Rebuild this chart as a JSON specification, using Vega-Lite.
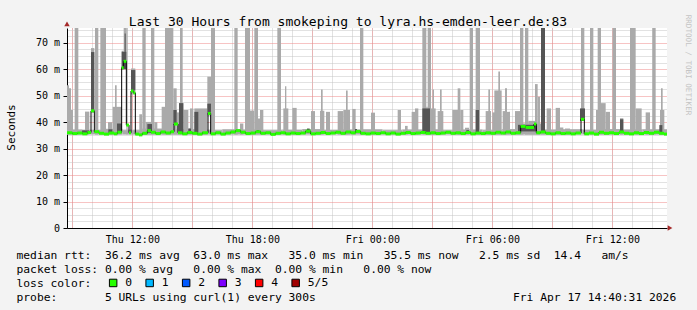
{
  "$schema": "https://vega.github.io/schema/vega-lite/v6.json",
  "width": 600,
  "height": 200,
  "autosize": {"type": "none"},
  "padding": {"left": 67, "top": 28, "right": 30, "bottom": 82},
  "background": "#f3f3f3",
  "config": {
    "view": {"fill": "#ffffff", "stroke": null},
    "font": "DejaVu Sans Mono",
    "axis": {"labelFont": "DejaVu Sans Mono", "titleFont": "DejaVu Sans Mono"}
  },
  "datasets": {
    "light": [
      {"t":"2026-04-16T08:44:00Z","t2":"2026-04-16T09:30:00Z","lo":35.3,"hi":37.2},
      {"t":"2026-04-16T09:30:00Z","t2":"2026-04-16T10:30:00Z","lo":35.3,"hi":37.0},
      {"t":"2026-04-16T10:30:00Z","t2":"2026-04-16T11:30:00Z","lo":35.3,"hi":37.5},
      {"t":"2026-04-16T11:30:00Z","t2":"2026-04-16T12:30:00Z","lo":35.3,"hi":37.0},
      {"t":"2026-04-16T12:30:00Z","t2":"2026-04-16T13:30:00Z","lo":35.3,"hi":37.6},
      {"t":"2026-04-16T13:30:00Z","t2":"2026-04-16T14:30:00Z","lo":35.3,"hi":37.3},
      {"t":"2026-04-16T14:30:00Z","t2":"2026-04-16T15:30:00Z","lo":35.3,"hi":37.4},
      {"t":"2026-04-16T15:30:00Z","t2":"2026-04-16T16:30:00Z","lo":35.3,"hi":37.0},
      {"t":"2026-04-16T16:30:00Z","t2":"2026-04-16T17:30:00Z","lo":35.3,"hi":37.3},
      {"t":"2026-04-16T17:30:00Z","t2":"2026-04-16T18:30:00Z","lo":35.3,"hi":37.2},
      {"t":"2026-04-16T18:30:00Z","t2":"2026-04-16T19:30:00Z","lo":35.3,"hi":37.0},
      {"t":"2026-04-16T19:30:00Z","t2":"2026-04-16T20:30:00Z","lo":35.3,"hi":37.1},
      {"t":"2026-04-16T20:30:00Z","t2":"2026-04-16T21:30:00Z","lo":35.3,"hi":37.4},
      {"t":"2026-04-16T21:30:00Z","t2":"2026-04-16T22:30:00Z","lo":35.3,"hi":37.0},
      {"t":"2026-04-16T22:30:00Z","t2":"2026-04-16T23:30:00Z","lo":35.3,"hi":37.2},
      {"t":"2026-04-16T23:30:00Z","t2":"2026-04-17T00:30:00Z","lo":35.3,"hi":37.3},
      {"t":"2026-04-17T00:30:00Z","t2":"2026-04-17T01:30:00Z","lo":35.3,"hi":37.0},
      {"t":"2026-04-17T01:30:00Z","t2":"2026-04-17T02:30:00Z","lo":35.3,"hi":37.2},
      {"t":"2026-04-17T02:30:00Z","t2":"2026-04-17T03:30:00Z","lo":35.3,"hi":37.3},
      {"t":"2026-04-17T03:30:00Z","t2":"2026-04-17T04:30:00Z","lo":35.3,"hi":37.0},
      {"t":"2026-04-17T04:30:00Z","t2":"2026-04-17T05:30:00Z","lo":35.3,"hi":37.2},
      {"t":"2026-04-17T05:30:00Z","t2":"2026-04-17T06:30:00Z","lo":35.3,"hi":37.0},
      {"t":"2026-04-17T06:30:00Z","t2":"2026-04-17T07:30:00Z","lo":35.3,"hi":37.4},
      {"t":"2026-04-17T07:30:00Z","t2":"2026-04-17T08:30:00Z","lo":35.3,"hi":39.5},
      {"t":"2026-04-17T08:30:00Z","t2":"2026-04-17T09:30:00Z","lo":35.3,"hi":37.2},
      {"t":"2026-04-17T09:30:00Z","t2":"2026-04-17T10:30:00Z","lo":35.3,"hi":37.3},
      {"t":"2026-04-17T10:30:00Z","t2":"2026-04-17T11:30:00Z","lo":35.3,"hi":37.1},
      {"t":"2026-04-17T11:30:00Z","t2":"2026-04-17T12:30:00Z","lo":35.3,"hi":37.4},
      {"t":"2026-04-17T12:30:00Z","t2":"2026-04-17T13:30:00Z","lo":35.3,"hi":37.2},
      {"t":"2026-04-17T13:30:00Z","t2":"2026-04-17T14:44:00Z","lo":35.3,"hi":37.3},
      {"t":"2026-04-16T08:44:00Z","t2":"2026-04-16T08:50:00Z","lo":35.3,"hi":54.0},
      {"t":"2026-04-16T08:50:00Z","t2":"2026-04-16T08:56:00Z","lo":35.3,"hi":52.8},
      {"t":"2026-04-16T08:56:00Z","t2":"2026-04-16T09:02:00Z","lo":35.3,"hi":44.6},
      {"t":"2026-04-16T09:07:00Z","t2":"2026-04-16T09:18:00Z","lo":35.3,"hi":90},
      {"t":"2026-04-16T09:38:00Z","t2":"2026-04-16T09:51:00Z","lo":35.3,"hi":44.0},
      {"t":"2026-04-16T09:56:00Z","t2":"2026-04-16T10:06:00Z","lo":43.5,"hi":68.0},
      {"t":"2026-04-16T10:08:00Z","t2":"2026-04-16T10:18:00Z","lo":35.3,"hi":90},
      {"t":"2026-04-16T10:24:00Z","t2":"2026-04-16T10:41:00Z","lo":35.3,"hi":90},
      {"t":"2026-04-16T10:47:00Z","t2":"2026-04-16T10:59:00Z","lo":35.3,"hi":40.0},
      {"t":"2026-04-16T11:01:00Z","t2":"2026-04-16T11:28:00Z","lo":35.3,"hi":45.8},
      {"t":"2026-04-16T11:08:00Z","t2":"2026-04-16T11:13:00Z","lo":35.3,"hi":54.0},
      {"t":"2026-04-16T11:28:00Z","t2":"2026-04-16T11:34:00Z","lo":59.8,"hi":67.0},
      {"t":"2026-04-16T11:34:00Z","t2":"2026-04-16T11:42:00Z","lo":61.5,"hi":90},
      {"t":"2026-04-16T11:42:00Z","t2":"2026-04-16T11:46:00Z","lo":35.3,"hi":90},
      {"t":"2026-04-16T11:56:00Z","t2":"2026-04-16T12:09:00Z","lo":50.5,"hi":60.3},
      {"t":"2026-04-16T12:21:00Z","t2":"2026-04-16T12:29:00Z","lo":35.3,"hi":43.0},
      {"t":"2026-04-16T12:30:00Z","t2":"2026-04-16T12:40:00Z","lo":35.3,"hi":90},
      {"t":"2026-04-16T12:40:00Z","t2":"2026-04-16T12:56:00Z","lo":35.3,"hi":40.1},
      {"t":"2026-04-16T12:56:00Z","t2":"2026-04-16T13:06:00Z","lo":35.3,"hi":90},
      {"t":"2026-04-16T13:06:00Z","t2":"2026-04-16T13:15:00Z","lo":35.3,"hi":40.0},
      {"t":"2026-04-16T13:28:00Z","t2":"2026-04-16T13:38:00Z","lo":35.3,"hi":45.8},
      {"t":"2026-04-16T13:38:00Z","t2":"2026-04-16T14:03:00Z","lo":35.3,"hi":90},
      {"t":"2026-04-16T14:03:00Z","t2":"2026-04-16T14:13:00Z","lo":35.3,"hi":52.8},
      {"t":"2026-04-16T14:13:00Z","t2":"2026-04-16T14:20:00Z","lo":35.3,"hi":43.7},
      {"t":"2026-04-16T14:20:00Z","t2":"2026-04-16T14:33:00Z","lo":35.3,"hi":47.2},
      {"t":"2026-04-16T14:23:00Z","t2":"2026-04-16T14:31:00Z","lo":35.3,"hi":90},
      {"t":"2026-04-16T14:33:00Z","t2":"2026-04-16T14:48:00Z","lo":35.3,"hi":44.6},
      {"t":"2026-04-16T14:48:00Z","t2":"2026-04-16T14:53:00Z","lo":35.3,"hi":37.6},
      {"t":"2026-04-16T14:53:00Z","t2":"2026-04-16T15:03:00Z","lo":35.3,"hi":45.2},
      {"t":"2026-04-16T15:06:00Z","t2":"2026-04-16T15:45:00Z","lo":35.3,"hi":45.2},
      {"t":"2026-04-16T15:45:00Z","t2":"2026-04-16T15:56:00Z","lo":42.5,"hi":57.2},
      {"t":"2026-04-16T15:56:00Z","t2":"2026-04-16T16:08:00Z","lo":35.3,"hi":90},
      {"t":"2026-04-16T17:06:00Z","t2":"2026-04-16T17:16:00Z","lo":35.3,"hi":90},
      {"t":"2026-04-16T17:23:00Z","t2":"2026-04-16T17:33:00Z","lo":35.3,"hi":39.5},
      {"t":"2026-04-16T17:38:00Z","t2":"2026-04-16T17:53:00Z","lo":35.3,"hi":90},
      {"t":"2026-04-16T17:53:00Z","t2":"2026-04-16T18:06:00Z","lo":35.3,"hi":44.4},
      {"t":"2026-04-16T18:06:00Z","t2":"2026-04-16T18:17:00Z","lo":35.3,"hi":90},
      {"t":"2026-04-16T18:17:00Z","t2":"2026-04-16T18:23:00Z","lo":35.3,"hi":41.4},
      {"t":"2026-04-16T18:23:00Z","t2":"2026-04-16T18:33:00Z","lo":35.3,"hi":44.6},
      {"t":"2026-04-16T19:15:00Z","t2":"2026-04-16T19:26:00Z","lo":35.3,"hi":90},
      {"t":"2026-04-16T19:33:00Z","t2":"2026-04-16T19:48:00Z","lo":35.3,"hi":45.2},
      {"t":"2026-04-16T19:38:00Z","t2":"2026-04-16T19:42:00Z","lo":35.3,"hi":53.6},
      {"t":"2026-04-16T20:00:00Z","t2":"2026-04-16T20:13:00Z","lo":35.3,"hi":45.4},
      {"t":"2026-04-16T20:56:00Z","t2":"2026-04-16T21:08:00Z","lo":35.3,"hi":44.2},
      {"t":"2026-04-16T21:23:00Z","t2":"2026-04-16T21:36:00Z","lo":35.3,"hi":44.3},
      {"t":"2026-04-16T21:26:00Z","t2":"2026-04-16T21:31:00Z","lo":35.3,"hi":52.4},
      {"t":"2026-04-16T21:41:00Z","t2":"2026-04-16T21:53:00Z","lo":35.3,"hi":43.9},
      {"t":"2026-04-16T22:16:00Z","t2":"2026-04-16T22:33:00Z","lo":35.3,"hi":44.2},
      {"t":"2026-04-16T22:33:00Z","t2":"2026-04-16T22:53:00Z","lo":35.3,"hi":44.6},
      {"t":"2026-04-16T22:41:00Z","t2":"2026-04-16T22:46:00Z","lo":35.3,"hi":52.0},
      {"t":"2026-04-16T23:00:00Z","t2":"2026-04-16T23:10:00Z","lo":35.3,"hi":45.0},
      {"t":"2026-04-16T23:23:00Z","t2":"2026-04-16T23:33:00Z","lo":35.3,"hi":90},
      {"t":"2026-04-16T23:56:00Z","t2":"2026-04-17T00:08:00Z","lo":35.3,"hi":43.6},
      {"t":"2026-04-17T01:16:00Z","t2":"2026-04-17T01:26:00Z","lo":35.3,"hi":44.6},
      {"t":"2026-04-17T01:38:00Z","t2":"2026-04-17T01:46:00Z","lo":35.3,"hi":38.6},
      {"t":"2026-04-17T01:58:00Z","t2":"2026-04-17T02:08:00Z","lo":35.3,"hi":43.9},
      {"t":"2026-04-17T02:08:00Z","t2":"2026-04-17T02:18:00Z","lo":35.3,"hi":45.2},
      {"t":"2026-04-17T02:30:00Z","t2":"2026-04-17T02:42:00Z","lo":35.3,"hi":90},
      {"t":"2026-04-17T02:42:00Z","t2":"2026-04-17T02:46:00Z","lo":35.3,"hi":45.8},
      {"t":"2026-04-17T02:46:00Z","t2":"2026-04-17T02:56:00Z","lo":35.3,"hi":90},
      {"t":"2026-04-17T02:56:00Z","t2":"2026-04-17T03:10:00Z","lo":35.3,"hi":45.2},
      {"t":"2026-04-17T03:01:00Z","t2":"2026-04-17T03:05:00Z","lo":35.3,"hi":52.4},
      {"t":"2026-04-17T03:16:00Z","t2":"2026-04-17T03:33:00Z","lo":35.3,"hi":44.2},
      {"t":"2026-04-17T03:23:00Z","t2":"2026-04-17T03:28:00Z","lo":35.3,"hi":52.4},
      {"t":"2026-04-17T04:00:00Z","t2":"2026-04-17T04:24:00Z","lo":35.3,"hi":44.6},
      {"t":"2026-04-17T04:16:00Z","t2":"2026-04-17T04:24:00Z","lo":35.3,"hi":52.8},
      {"t":"2026-04-17T04:24:00Z","t2":"2026-04-17T04:33:00Z","lo":35.3,"hi":44.6},
      {"t":"2026-04-17T04:38:00Z","t2":"2026-04-17T04:50:00Z","lo":35.3,"hi":37.9},
      {"t":"2026-04-17T04:52:00Z","t2":"2026-04-17T05:02:00Z","lo":35.3,"hi":90},
      {"t":"2026-04-17T05:10:00Z","t2":"2026-04-17T05:23:00Z","lo":35.3,"hi":90},
      {"t":"2026-04-17T05:40:00Z","t2":"2026-04-17T05:56:00Z","lo":35.3,"hi":44.2},
      {"t":"2026-04-17T05:48:00Z","t2":"2026-04-17T05:53:00Z","lo":35.3,"hi":52.4},
      {"t":"2026-04-17T06:00:00Z","t2":"2026-04-17T06:16:00Z","lo":35.3,"hi":43.7},
      {"t":"2026-04-17T06:06:00Z","t2":"2026-04-17T06:28:00Z","lo":35.3,"hi":52.0},
      {"t":"2026-04-17T06:18:00Z","t2":"2026-04-17T06:23:00Z","lo":35.3,"hi":59.2},
      {"t":"2026-04-17T06:31:00Z","t2":"2026-04-17T06:43:00Z","lo":35.3,"hi":44.2},
      {"t":"2026-04-17T06:38:00Z","t2":"2026-04-17T06:44:00Z","lo":35.3,"hi":52.8},
      {"t":"2026-04-17T06:43:00Z","t2":"2026-04-17T06:53:00Z","lo":35.3,"hi":43.9},
      {"t":"2026-04-17T07:08:00Z","t2":"2026-04-17T07:23:00Z","lo":35.3,"hi":44.2},
      {"t":"2026-04-17T07:23:00Z","t2":"2026-04-17T07:33:00Z","lo":35.3,"hi":90},
      {"t":"2026-04-17T07:38:00Z","t2":"2026-04-17T07:48:00Z","lo":35.3,"hi":90},
      {"t":"2026-04-17T07:48:00Z","t2":"2026-04-17T08:08:00Z","lo":35.3,"hi":40.5},
      {"t":"2026-04-17T08:08:00Z","t2":"2026-04-17T08:16:00Z","lo":35.3,"hi":54.4},
      {"t":"2026-04-17T08:16:00Z","t2":"2026-04-17T08:23:00Z","lo":35.3,"hi":49.6},
      {"t":"2026-04-17T08:26:00Z","t2":"2026-04-17T08:38:00Z","lo":35.3,"hi":90},
      {"t":"2026-04-17T08:43:00Z","t2":"2026-04-17T08:56:00Z","lo":35.3,"hi":45.2},
      {"t":"2026-04-17T09:10:00Z","t2":"2026-04-17T09:23:00Z","lo":35.3,"hi":45.4},
      {"t":"2026-04-17T09:23:00Z","t2":"2026-04-17T09:33:00Z","lo":35.3,"hi":38.0},
      {"t":"2026-04-17T09:38:00Z","t2":"2026-04-17T09:53:00Z","lo":35.3,"hi":37.6},
      {"t":"2026-04-17T10:26:00Z","t2":"2026-04-17T10:36:00Z","lo":40.5,"hi":90},
      {"t":"2026-04-17T10:53:00Z","t2":"2026-04-17T11:03:00Z","lo":35.3,"hi":90},
      {"t":"2026-04-17T11:11:00Z","t2":"2026-04-17T11:18:00Z","lo":35.3,"hi":44.6},
      {"t":"2026-04-17T11:16:00Z","t2":"2026-04-17T11:26:00Z","lo":35.3,"hi":90},
      {"t":"2026-04-17T11:26:00Z","t2":"2026-04-17T11:40:00Z","lo":35.3,"hi":47.2},
      {"t":"2026-04-17T11:40:00Z","t2":"2026-04-17T11:53:00Z","lo":35.3,"hi":43.9},
      {"t":"2026-04-17T12:01:00Z","t2":"2026-04-17T12:11:00Z","lo":35.3,"hi":90},
      {"t":"2026-04-17T12:23:00Z","t2":"2026-04-17T12:33:00Z","lo":35.3,"hi":41.5},
      {"t":"2026-04-17T12:53:00Z","t2":"2026-04-17T13:10:00Z","lo":35.3,"hi":90},
      {"t":"2026-04-17T13:10:00Z","t2":"2026-04-17T13:28:00Z","lo":35.3,"hi":45.2},
      {"t":"2026-04-17T13:40:00Z","t2":"2026-04-17T13:53:00Z","lo":35.3,"hi":43.7},
      {"t":"2026-04-17T14:00:00Z","t2":"2026-04-17T14:10:00Z","lo":35.3,"hi":90},
      {"t":"2026-04-17T14:23:00Z","t2":"2026-04-17T14:36:00Z","lo":35.3,"hi":44.6},
      {"t":"2026-04-17T14:26:00Z","t2":"2026-04-17T14:31:00Z","lo":35.3,"hi":52.8}
    ],
    "dark": [
      {"t":"2026-04-16T09:29:00Z","t2":"2026-04-16T09:50:00Z","lo":35.8,"hi":36.9},
      {"t":"2026-04-16T09:56:00Z","t2":"2026-04-16T10:06:00Z","lo":44.0,"hi":66.5},
      {"t":"2026-04-16T10:48:00Z","t2":"2026-04-16T11:00:00Z","lo":35.8,"hi":37.3},
      {"t":"2026-04-16T11:14:00Z","t2":"2026-04-16T11:28:00Z","lo":36.0,"hi":39.5},
      {"t":"2026-04-16T11:28:00Z","t2":"2026-04-16T11:42:00Z","lo":60.0,"hi":66.6},
      {"t":"2026-04-16T11:37:00Z","t2":"2026-04-16T11:40:00Z","lo":62.0,"hi":73.5},
      {"t":"2026-04-16T11:56:00Z","t2":"2026-04-16T12:09:00Z","lo":52.0,"hi":59.7},
      {"t":"2026-04-16T12:45:00Z","t2":"2026-04-16T12:59:00Z","lo":36.0,"hi":39.3},
      {"t":"2026-04-16T14:03:00Z","t2":"2026-04-16T14:13:00Z","lo":39.0,"hi":44.6},
      {"t":"2026-04-16T14:20:00Z","t2":"2026-04-16T14:33:00Z","lo":36.0,"hi":47.2},
      {"t":"2026-04-16T14:48:00Z","t2":"2026-04-16T14:56:00Z","lo":36.0,"hi":37.6},
      {"t":"2026-04-16T15:06:00Z","t2":"2026-04-16T15:18:00Z","lo":36.0,"hi":43.9},
      {"t":"2026-04-16T15:45:00Z","t2":"2026-04-16T15:56:00Z","lo":43.0,"hi":47.0},
      {"t":"2026-04-16T18:14:00Z","t2":"2026-04-16T18:20:00Z","lo":36.0,"hi":37.0},
      {"t":"2026-04-16T20:44:00Z","t2":"2026-04-16T20:52:00Z","lo":36.0,"hi":37.6},
      {"t":"2026-04-16T23:08:00Z","t2":"2026-04-16T23:14:00Z","lo":36.0,"hi":37.4},
      {"t":"2026-04-17T02:30:00Z","t2":"2026-04-17T02:53:00Z","lo":36.0,"hi":45.2},
      {"t":"2026-04-17T04:42:00Z","t2":"2026-04-17T04:50:00Z","lo":36.0,"hi":37.0},
      {"t":"2026-04-17T05:10:00Z","t2":"2026-04-17T05:20:00Z","lo":36.0,"hi":44.6},
      {"t":"2026-04-17T07:17:00Z","t2":"2026-04-17T08:14:00Z","lo":36.5,"hi":39.0},
      {"t":"2026-04-17T08:26:00Z","t2":"2026-04-17T08:38:00Z","lo":36.5,"hi":90},
      {"t":"2026-04-17T10:23:00Z","t2":"2026-04-17T10:38:00Z","lo":40.5,"hi":45.2},
      {"t":"2026-04-17T12:23:00Z","t2":"2026-04-17T12:33:00Z","lo":36.0,"hi":41.1},
      {"t":"2026-04-17T14:21:00Z","t2":"2026-04-17T14:30:00Z","lo":36.0,"hi":38.9}
    ],
    "med": [
      {"t":"2026-04-16T08:44:00Z","t2":"2026-04-16T09:00:00Z","m":36.0,"loss":"0"},
      {"t":"2026-04-16T09:00:00Z","t2":"2026-04-16T09:15:00Z","m":35.7,"loss":"0"},
      {"t":"2026-04-16T09:15:00Z","t2":"2026-04-16T09:30:00Z","m":35.9,"loss":"0"},
      {"t":"2026-04-16T09:30:00Z","t2":"2026-04-16T09:45:00Z","m":35.6,"loss":"0"},
      {"t":"2026-04-16T09:45:00Z","t2":"2026-04-16T09:56:00Z","m":36.1,"loss":"0"},
      {"t":"2026-04-16T09:56:00Z","t2":"2026-04-16T10:06:00Z","m":44.3,"loss":"0"},
      {"t":"2026-04-16T10:06:00Z","t2":"2026-04-16T10:20:00Z","m":36.4,"loss":"0"},
      {"t":"2026-04-16T10:20:00Z","t2":"2026-04-16T10:35:00Z","m":35.8,"loss":"0"},
      {"t":"2026-04-16T10:35:00Z","t2":"2026-04-16T10:50:00Z","m":35.5,"loss":"0"},
      {"t":"2026-04-16T10:50:00Z","t2":"2026-04-16T11:05:00Z","m":35.9,"loss":"0"},
      {"t":"2026-04-16T11:05:00Z","t2":"2026-04-16T11:15:00Z","m":35.6,"loss":"0"},
      {"t":"2026-04-16T11:15:00Z","t2":"2026-04-16T11:28:00Z","m":36.2,"loss":"0"},
      {"t":"2026-04-16T11:28:00Z","t2":"2026-04-16T11:34:00Z","m":60.6,"loss":"0"},
      {"t":"2026-04-16T11:34:00Z","t2":"2026-04-16T11:42:00Z","m":63.0,"loss":"0"},
      {"t":"2026-04-16T11:42:00Z","t2":"2026-04-16T11:50:00Z","m":38.9,"loss":"0"},
      {"t":"2026-04-16T11:50:00Z","t2":"2026-04-16T11:56:00Z","m":36.0,"loss":"0"},
      {"t":"2026-04-16T11:56:00Z","t2":"2026-04-16T12:03:00Z","m":51.8,"loss":"0"},
      {"t":"2026-04-16T12:03:00Z","t2":"2026-04-16T12:09:00Z","m":51.1,"loss":"0"},
      {"t":"2026-04-16T12:09:00Z","t2":"2026-04-16T12:20:00Z","m":35.5,"loss":"0"},
      {"t":"2026-04-16T12:20:00Z","t2":"2026-04-16T12:30:00Z","m":35.2,"loss":"0"},
      {"t":"2026-04-16T12:30:00Z","t2":"2026-04-16T12:45:00Z","m":35.8,"loss":"0"},
      {"t":"2026-04-16T12:45:00Z","t2":"2026-04-16T12:56:00Z","m":36.8,"loss":"0"},
      {"t":"2026-04-16T12:56:00Z","t2":"2026-04-16T13:10:00Z","m":36.2,"loss":"0"},
      {"t":"2026-04-16T13:10:00Z","t2":"2026-04-16T13:25:00Z","m":35.7,"loss":"0"},
      {"t":"2026-04-16T13:25:00Z","t2":"2026-04-16T13:40:00Z","m":36.3,"loss":"0"},
      {"t":"2026-04-16T13:40:00Z","t2":"2026-04-16T13:55:00Z","m":35.9,"loss":"0"},
      {"t":"2026-04-16T13:55:00Z","t2":"2026-04-16T14:05:00Z","m":36.4,"loss":"0"},
      {"t":"2026-04-16T14:05:00Z","t2":"2026-04-16T14:17:00Z","m":39.3,"loss":"0"},
      {"t":"2026-04-16T14:17:00Z","t2":"2026-04-16T14:30:00Z","m":36.0,"loss":"0"},
      {"t":"2026-04-16T14:30:00Z","t2":"2026-04-16T14:45:00Z","m":35.6,"loss":"0"},
      {"t":"2026-04-16T14:45:00Z","t2":"2026-04-16T15:00:00Z","m":36.1,"loss":"0"},
      {"t":"2026-04-16T15:00:00Z","t2":"2026-04-16T15:15:00Z","m":35.8,"loss":"0"},
      {"t":"2026-04-16T15:15:00Z","t2":"2026-04-16T15:30:00Z","m":35.5,"loss":"0"},
      {"t":"2026-04-16T15:30:00Z","t2":"2026-04-16T15:47:00Z","m":36.0,"loss":"0"},
      {"t":"2026-04-16T15:47:00Z","t2":"2026-04-16T15:55:00Z","m":43.3,"loss":"0"},
      {"t":"2026-04-16T15:55:00Z","t2":"2026-04-16T16:10:00Z","m":35.6,"loss":"0"},
      {"t":"2026-04-16T16:10:00Z","t2":"2026-04-16T16:25:00Z","m":36.0,"loss":"0"},
      {"t":"2026-04-16T16:25:00Z","t2":"2026-04-16T16:40:00Z","m":35.5,"loss":"0"},
      {"t":"2026-04-16T16:40:00Z","t2":"2026-04-16T16:55:00Z","m":35.9,"loss":"0"},
      {"t":"2026-04-16T16:55:00Z","t2":"2026-04-16T17:10:00Z","m":36.3,"loss":"0"},
      {"t":"2026-04-16T17:10:00Z","t2":"2026-04-16T17:25:00Z","m":36.8,"loss":"0"},
      {"t":"2026-04-16T17:25:00Z","t2":"2026-04-16T17:40:00Z","m":36.2,"loss":"0"},
      {"t":"2026-04-16T17:40:00Z","t2":"2026-04-16T17:55:00Z","m":35.7,"loss":"0"},
      {"t":"2026-04-16T17:55:00Z","t2":"2026-04-16T18:10:00Z","m":35.9,"loss":"0"},
      {"t":"2026-04-16T18:10:00Z","t2":"2026-04-16T18:25:00Z","m":36.4,"loss":"0"},
      {"t":"2026-04-16T18:25:00Z","t2":"2026-04-16T18:40:00Z","m":35.8,"loss":"0"},
      {"t":"2026-04-16T18:40:00Z","t2":"2026-04-16T18:55:00Z","m":36.0,"loss":"0"},
      {"t":"2026-04-16T18:55:00Z","t2":"2026-04-16T19:10:00Z","m":35.4,"loss":"0"},
      {"t":"2026-04-16T19:10:00Z","t2":"2026-04-16T19:25:00Z","m":35.8,"loss":"0"},
      {"t":"2026-04-16T19:25:00Z","t2":"2026-04-16T19:40:00Z","m":36.0,"loss":"0"},
      {"t":"2026-04-16T19:40:00Z","t2":"2026-04-16T19:55:00Z","m":35.6,"loss":"0"},
      {"t":"2026-04-16T19:55:00Z","t2":"2026-04-16T20:10:00Z","m":35.9,"loss":"0"},
      {"t":"2026-04-16T20:10:00Z","t2":"2026-04-16T20:25:00Z","m":35.7,"loss":"0"},
      {"t":"2026-04-16T20:25:00Z","t2":"2026-04-16T20:40:00Z","m":35.9,"loss":"0"},
      {"t":"2026-04-16T20:40:00Z","t2":"2026-04-16T20:55:00Z","m":36.6,"loss":"0"},
      {"t":"2026-04-16T20:55:00Z","t2":"2026-04-16T21:10:00Z","m":35.6,"loss":"0"},
      {"t":"2026-04-16T21:10:00Z","t2":"2026-04-16T21:25:00Z","m":35.8,"loss":"0"},
      {"t":"2026-04-16T21:25:00Z","t2":"2026-04-16T21:40:00Z","m":36.1,"loss":"0"},
      {"t":"2026-04-16T21:40:00Z","t2":"2026-04-16T21:55:00Z","m":35.7,"loss":"0"},
      {"t":"2026-04-16T21:55:00Z","t2":"2026-04-16T22:10:00Z","m":35.9,"loss":"0"},
      {"t":"2026-04-16T22:10:00Z","t2":"2026-04-16T22:25:00Z","m":36.2,"loss":"0"},
      {"t":"2026-04-16T22:25:00Z","t2":"2026-04-16T22:40:00Z","m":35.8,"loss":"0"},
      {"t":"2026-04-16T22:40:00Z","t2":"2026-04-16T22:55:00Z","m":36.3,"loss":"0"},
      {"t":"2026-04-16T22:55:00Z","t2":"2026-04-16T23:10:00Z","m":36.0,"loss":"0"},
      {"t":"2026-04-16T23:10:00Z","t2":"2026-04-16T23:25:00Z","m":36.5,"loss":"0"},
      {"t":"2026-04-16T23:25:00Z","t2":"2026-04-16T23:40:00Z","m":35.8,"loss":"0"},
      {"t":"2026-04-16T23:40:00Z","t2":"2026-04-16T23:55:00Z","m":35.6,"loss":"0"},
      {"t":"2026-04-16T23:55:00Z","t2":"2026-04-17T00:10:00Z","m":35.9,"loss":"0"},
      {"t":"2026-04-17T00:10:00Z","t2":"2026-04-17T00:25:00Z","m":35.7,"loss":"0"},
      {"t":"2026-04-17T00:25:00Z","t2":"2026-04-17T00:40:00Z","m":36.0,"loss":"0"},
      {"t":"2026-04-17T00:40:00Z","t2":"2026-04-17T00:55:00Z","m":35.6,"loss":"0"},
      {"t":"2026-04-17T00:55:00Z","t2":"2026-04-17T01:10:00Z","m":35.9,"loss":"0"},
      {"t":"2026-04-17T01:10:00Z","t2":"2026-04-17T01:25:00Z","m":35.5,"loss":"0"},
      {"t":"2026-04-17T01:25:00Z","t2":"2026-04-17T01:40:00Z","m":35.8,"loss":"0"},
      {"t":"2026-04-17T01:40:00Z","t2":"2026-04-17T01:55:00Z","m":36.1,"loss":"0"},
      {"t":"2026-04-17T01:55:00Z","t2":"2026-04-17T02:10:00Z","m":35.7,"loss":"0"},
      {"t":"2026-04-17T02:10:00Z","t2":"2026-04-17T02:25:00Z","m":35.9,"loss":"0"},
      {"t":"2026-04-17T02:25:00Z","t2":"2026-04-17T02:40:00Z","m":36.1,"loss":"0"},
      {"t":"2026-04-17T02:40:00Z","t2":"2026-04-17T02:55:00Z","m":35.8,"loss":"0"},
      {"t":"2026-04-17T02:55:00Z","t2":"2026-04-17T03:10:00Z","m":36.0,"loss":"0"},
      {"t":"2026-04-17T03:10:00Z","t2":"2026-04-17T03:25:00Z","m":35.7,"loss":"0"},
      {"t":"2026-04-17T03:25:00Z","t2":"2026-04-17T03:40:00Z","m":35.9,"loss":"0"},
      {"t":"2026-04-17T03:40:00Z","t2":"2026-04-17T03:55:00Z","m":36.2,"loss":"0"},
      {"t":"2026-04-17T03:55:00Z","t2":"2026-04-17T04:10:00Z","m":35.8,"loss":"0"},
      {"t":"2026-04-17T04:10:00Z","t2":"2026-04-17T04:25:00Z","m":36.0,"loss":"0"},
      {"t":"2026-04-17T04:25:00Z","t2":"2026-04-17T04:40:00Z","m":35.7,"loss":"0"},
      {"t":"2026-04-17T04:40:00Z","t2":"2026-04-17T04:55:00Z","m":36.1,"loss":"0"},
      {"t":"2026-04-17T04:55:00Z","t2":"2026-04-17T05:10:00Z","m":35.6,"loss":"0"},
      {"t":"2026-04-17T05:10:00Z","t2":"2026-04-17T05:25:00Z","m":35.9,"loss":"0"},
      {"t":"2026-04-17T05:25:00Z","t2":"2026-04-17T05:40:00Z","m":35.7,"loss":"0"},
      {"t":"2026-04-17T05:40:00Z","t2":"2026-04-17T05:55:00Z","m":36.0,"loss":"0"},
      {"t":"2026-04-17T05:55:00Z","t2":"2026-04-17T06:10:00Z","m":35.8,"loss":"0"},
      {"t":"2026-04-17T06:10:00Z","t2":"2026-04-17T06:25:00Z","m":36.2,"loss":"0"},
      {"t":"2026-04-17T06:25:00Z","t2":"2026-04-17T06:40:00Z","m":35.9,"loss":"0"},
      {"t":"2026-04-17T06:40:00Z","t2":"2026-04-17T06:55:00Z","m":36.3,"loss":"0"},
      {"t":"2026-04-17T06:55:00Z","t2":"2026-04-17T07:10:00Z","m":35.8,"loss":"0"},
      {"t":"2026-04-17T07:10:00Z","t2":"2026-04-17T07:25:00Z","m":36.0,"loss":"0"},
      {"t":"2026-04-17T07:25:00Z","t2":"2026-04-17T07:40:00Z","m":38.4,"loss":"0"},
      {"t":"2026-04-17T07:40:00Z","t2":"2026-04-17T08:05:00Z","m":38.0,"loss":"0"},
      {"t":"2026-04-17T08:05:00Z","t2":"2026-04-17T08:12:00Z","m":39.3,"loss":"0"},
      {"t":"2026-04-17T08:12:00Z","t2":"2026-04-17T08:25:00Z","m":36.0,"loss":"0"},
      {"t":"2026-04-17T08:25:00Z","t2":"2026-04-17T08:40:00Z","m":36.3,"loss":"0"},
      {"t":"2026-04-17T08:40:00Z","t2":"2026-04-17T08:55:00Z","m":35.8,"loss":"0"},
      {"t":"2026-04-17T08:55:00Z","t2":"2026-04-17T09:10:00Z","m":35.6,"loss":"0"},
      {"t":"2026-04-17T09:10:00Z","t2":"2026-04-17T09:25:00Z","m":36.0,"loss":"0"},
      {"t":"2026-04-17T09:25:00Z","t2":"2026-04-17T09:40:00Z","m":35.7,"loss":"0"},
      {"t":"2026-04-17T09:40:00Z","t2":"2026-04-17T09:55:00Z","m":35.9,"loss":"0"},
      {"t":"2026-04-17T09:55:00Z","t2":"2026-04-17T10:10:00Z","m":35.6,"loss":"0"},
      {"t":"2026-04-17T10:10:00Z","t2":"2026-04-17T10:26:00Z","m":35.9,"loss":"0"},
      {"t":"2026-04-17T10:26:00Z","t2":"2026-04-17T10:36:00Z","m":41.1,"loss":"0"},
      {"t":"2026-04-17T10:36:00Z","t2":"2026-04-17T10:50:00Z","m":35.6,"loss":"0"},
      {"t":"2026-04-17T10:50:00Z","t2":"2026-04-17T11:05:00Z","m":35.9,"loss":"0"},
      {"t":"2026-04-17T11:05:00Z","t2":"2026-04-17T11:20:00Z","m":35.5,"loss":"0"},
      {"t":"2026-04-17T11:20:00Z","t2":"2026-04-17T11:35:00Z","m":36.2,"loss":"0"},
      {"t":"2026-04-17T11:35:00Z","t2":"2026-04-17T11:50:00Z","m":35.8,"loss":"0"},
      {"t":"2026-04-17T11:50:00Z","t2":"2026-04-17T12:05:00Z","m":36.0,"loss":"0"},
      {"t":"2026-04-17T12:05:00Z","t2":"2026-04-17T12:20:00Z","m":35.7,"loss":"0"},
      {"t":"2026-04-17T12:20:00Z","t2":"2026-04-17T12:35:00Z","m":36.3,"loss":"0"},
      {"t":"2026-04-17T12:35:00Z","t2":"2026-04-17T12:50:00Z","m":35.8,"loss":"0"},
      {"t":"2026-04-17T12:50:00Z","t2":"2026-04-17T13:05:00Z","m":35.6,"loss":"0"},
      {"t":"2026-04-17T13:05:00Z","t2":"2026-04-17T13:20:00Z","m":36.0,"loss":"0"},
      {"t":"2026-04-17T13:20:00Z","t2":"2026-04-17T13:35:00Z","m":35.7,"loss":"0"},
      {"t":"2026-04-17T13:35:00Z","t2":"2026-04-17T13:50:00Z","m":36.1,"loss":"0"},
      {"t":"2026-04-17T13:50:00Z","t2":"2026-04-17T14:05:00Z","m":35.8,"loss":"0"},
      {"t":"2026-04-17T14:05:00Z","t2":"2026-04-17T14:20:00Z","m":36.2,"loss":"0"},
      {"t":"2026-04-17T14:20:00Z","t2":"2026-04-17T14:35:00Z","m":35.8,"loss":"0"},
      {"t":"2026-04-17T14:35:00Z","t2":"2026-04-17T14:44:00Z","m":35.5,"loss":"0"}
    ]
  },
  "layer": [
    {
      "data": {"name": "light"},
      "mark": {"type": "rect", "color": "#aaaaaa", "clip": true},
      "encoding": {
        "x": {"field": "t", "type": "temporal",
          "scale": {"type": "utc", "domain": [{"year": 2026, "month": 4, "date": 16, "hours": 8, "minutes": 44, "utc": true}, {"year": 2026, "month": 4, "date": 17, "hours": 14, "minutes": 44, "utc": true}]},
          "axis": {"orient": "bottom", "grid": true, "gridColor": "#c4c4c4", "gridDash": [1, 1], "labels": false, "ticks": false, "domain": false, "title": null, "tickCount": 30}},
        "x2": {"field": "t2"},
        "y": {"field": "lo", "type": "quantitative",
          "scale": {"domain": [0, 75.6], "nice": false, "zero": false},
          "axis": {"orient": "left", "grid": true, "gridColor": "#c4c4c4", "gridDash": [1, 1], "values": [2.5, 5, 7.5, 12.5, 15, 17.5, 22.5, 25, 27.5, 32.5, 35, 37.5, 42.5, 45, 47.5, 52.5, 55, 57.5, 62.5, 65, 67.5, 72.5, 75], "labels": false, "ticks": false, "domain": false, "title": null}},
        "y2": {"field": "hi"}
      }
    },
    {
      "data": {"name": "dark"},
      "mark": {"type": "rect", "color": "#555555", "clip": true},
      "encoding": {
        "x": {"field": "t", "type": "temporal",
          "axis": {"orient": "bottom", "grid": true, "gridColor": "#ee8888", "gridDash": [1, 1], "labels": false, "ticks": false, "domain": false, "title": null, "tickCount": 10}},
        "x2": {"field": "t2"},
        "y": {"field": "lo", "type": "quantitative",
          "axis": {"orient": "left", "grid": true, "gridColor": "#ee8888", "gridDash": [1, 1], "values": [0, 10, 20, 30, 40, 50, 60, 70],
            "labelExpr": "datum.value == 0 ? '0' : datum.value + ' m'", "labelFontSize": 10, "labelColor": "#000000", "labelPadding": 3.5,
            "ticks": true, "tickSize": 4, "tickColor": "#000000", "domain": true, "domainColor": "#000000",
            "title": "Seconds", "titleFontSize": 11, "titleFontWeight": "normal", "titleColor": "#000000", "titleX": -56, "titleY": 99, "titleAngle": 270, "titleAlign": "center", "titleBaseline": "middle"}},
        "y2": {"field": "hi"}
      }
    },
    {
      "data": {"name": "med"},
      "mark": {"type": "line", "color": "#000000", "strokeWidth": 1, "interpolate": "step-after", "clip": true},
      "encoding": {
        "x": {"field": "t", "type": "temporal",
          "axis": {"orient": "bottom", "grid": false, "tickCount": 5, "format": "%a %H:%M",
            "labelFontSize": 10, "labelColor": "#000000", "labelPadding": 6, "labelFlush": false, "labelOverlap": false,
            "ticks": false, "tickSize": 0, "domain": true, "domainColor": "#000000",
            "title": ["median rtt:\u00a0\u00a036.2 ms avg\u00a0\u00a063.0 ms max\u00a0\u00a0\u00a035.0 ms min\u00a0\u00a0\u00a035.5 ms now\u00a0\u00a0\u00a02.5 ms sd\u00a0\u00a014.4\u00a0\u00a0\u00a0am/s",
                      "packet loss: 0.00 % avg\u00a0\u00a0\u00a00.00 % max\u00a0\u00a00.00 % min\u00a0\u00a0\u00a00.00 % now",
                      "loss color:",
                      "probe:\u00a0\u00a0\u00a0\u00a0\u00a0\u00a0\u00a05 URLs using curl(1) every 300s\u00a0\u00a0\u00a0\u00a0\u00a0\u00a0\u00a0\u00a0\u00a0\u00a0\u00a0\u00a0\u00a0\u00a0\u00a0\u00a0\u00a0\u00a0\u00a0\u00a0\u00a0\u00a0\u00a0\u00a0\u00a0\u00a0\u00a0\u00a0\u00a0Fri Apr 17 14:40:31 2026"],
            "titleFontSize": 11.3, "titleFontWeight": "normal", "titleColor": "#000000", "titleAlign": "left", "titleAnchor": "start", "titleX": -51, "titleY": 21, "titleBaseline": "top", "titleLineHeight": 14}},
        "y": {"field": "m", "type": "quantitative",
          "axis": {"orient": "right", "grid": false, "labels": false, "ticks": false, "domain": false,
            "title": "RRDTOOL / TOBI OETIKER", "titleFontSize": 7.6, "titleFontWeight": "normal", "titleColor": "#c4c4c4", "titleAngle": 90, "titleX": 20.5, "titleY": 36.5, "titleAlign": "center", "titleBaseline": "middle"}}
      }
    },
    {
      "data": {"name": "med"},
      "mark": {"type": "rule", "color": "#26ff00", "strokeWidth": 3, "clip": true},
      "encoding": {
        "x": {"field": "t", "type": "temporal",
          "axis": {"orient": "top", "grid": false, "labels": false, "ticks": false, "domain": false,
            "title": "Last 30 Hours from smokeping to lyra.hs-emden-leer.de:83", "titleFontSize": 13, "titleFontWeight": "normal", "titleColor": "#000000", "titleX": 280.5, "titleY": -3, "titleAlign": "center", "titleBaseline": "alphabetic"}},
        "x2": {"field": "t2"},
        "y": {"field": "m", "type": "quantitative", "axis": null}
      }
    },
    {
      "data": {"name": "med"},
      "mark": {"type": "point", "shape": "square", "filled": true, "opacity": 0, "size": 4},
      "encoding": {
        "x": {"field": "t", "type": "temporal", "axis": null},
        "y": {"field": "m", "type": "quantitative", "axis": null},
        "color": {"field": "loss", "type": "nominal",
          "scale": {"domain": ["0", "1", "2", "3", "4", "5/5"], "range": ["#26ff00", "#00b8ff", "#0059ff", "#7e00ff", "#ff0000", "#a00000"]},
          "legend": {"orient": "none", "legendX": 40.5, "legendY": 249, "direction": "horizontal", "title": null,
            "symbolType": "square", "symbolSize": 56, "symbolStrokeColor": "#000000", "symbolStrokeWidth": 1, "symbolOpacity": 1,
            "labelFont": "DejaVu Sans Mono", "labelFontSize": 11.3, "labelColor": "#000000", "labelOffset": 6.5, "columnPadding": 10.5, "padding": 0}}
      }
    },
    {
      "data": {"values": [{}]},
      "mark": {"type": "point", "shape": "triangle-right", "filled": true, "color": "#a52a2a", "size": 30, "opacity": 1},
      "encoding": {
        "x": {"datum": {"year": 2026, "month": 4, "date": 17, "hours": 14, "minutes": 53, "utc": true}, "type": "temporal", "axis": null},
        "y": {"datum": 0, "type": "quantitative", "axis": null}
      }
    },
    {
      "data": {"values": [{}]},
      "mark": {"type": "point", "shape": "triangle-up", "filled": true, "color": "#a52a2a", "size": 30, "opacity": 1},
      "encoding": {
        "x": {"datum": {"year": 2026, "month": 4, "date": 16, "hours": 8, "minutes": 44, "utc": true}, "type": "temporal", "axis": null},
        "y": {"datum": 77.2, "type": "quantitative", "axis": null}
      }
    }
  ],
  "resolve": {"axis": {"x": "independent", "y": "independent"}}
}
